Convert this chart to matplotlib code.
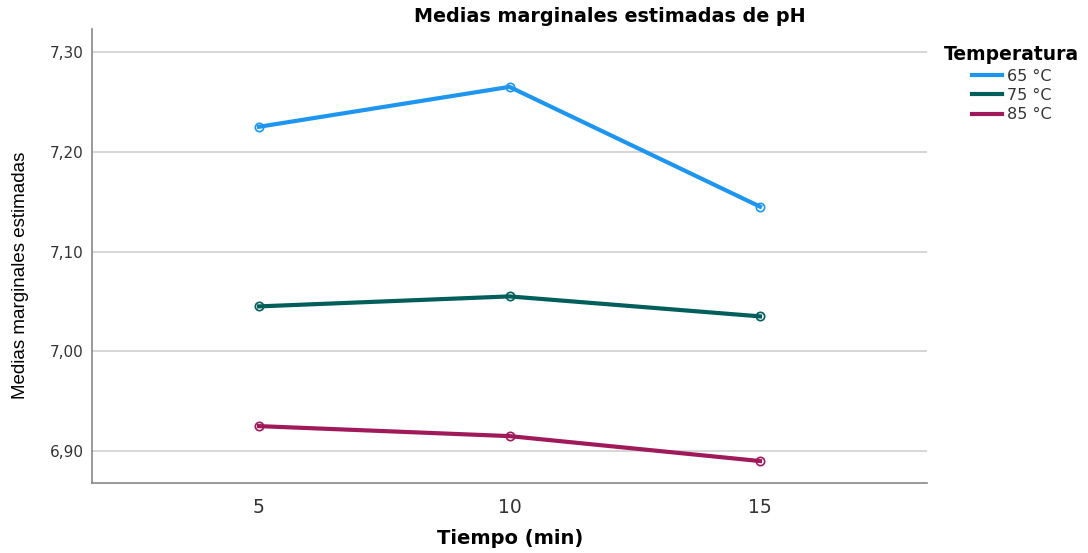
import matplotlib
matplotlib.use("Agg")
import matplotlib.pyplot as plt
from matplotlib.ticker import FuncFormatter

# tiempo (min) on x, one line per temperature
tiempo = [5, 10, 15]
temperaturas = ["65 °C", "75 °C", "85 °C"]
ph_65 = [7.225, 7.265, 7.145]
ph_75 = [7.045, 7.055, 7.035]
ph_85 = [6.925, 6.915, 6.890]
y_ticks = [6.90, 7.00, 7.10, 7.20, 7.30]

colores = ["#1e96f0", "#005f5a", "#a0195a"]

fig = plt.figure(figsize=(10.88, 5.53), dpi=100)
ax = fig.add_axes([92/1088, 1 - 483/553, (927 - 92)/1088, (483 - 29)/553])

for serie, color, nombre in zip([ph_65, ph_75, ph_85], colores, temperaturas):
    ax.plot(tiempo, serie, color=color, lw=3, label=nombre,
            marker="o", ms=6, mfc="none", mec=color, mew=1.2)

ax.set_xlim(1.667, 18.333)
ax.set_ylim(6.868, 7.323)
ax.set_xticks(tiempo)
ax.set_yticks(y_ticks)
ax.yaxis.set_major_formatter(FuncFormatter(lambda v, p: f"{v:.2f}".replace(".", ",")))
ax.grid(axis="y", color="#d0d0d0", lw=1.2)
ax.set_axisbelow(True)
ax.tick_params(length=0)
ax.tick_params(axis="x", labelsize=13.5, colors="#333333", pad=11)
ax.tick_params(axis="y", labelsize=11, colors="#333333", pad=6)
for s in ["top", "right"]:
    ax.spines[s].set_visible(False)
for s in ["left", "bottom"]:
    ax.spines[s].set_color("#888888")
    ax.spines[s].set_linewidth(1.2)

fig.text(610/1088, 1 - 16/553, "Medias marginales estimadas de pH",
         ha="center", va="center", fontsize=13.8, fontweight="bold")
fig.text(510/1088, 1 - 538/553, "Tiempo (min)",
         ha="center", va="center", fontsize=14, fontweight="bold")
fig.text(21/1088, 1 - 275/553, "Medias marginales estimadas",
         ha="center", va="center", rotation=90, fontsize=13.5,
         family=["Liberation Sans", "DejaVu Sans"])

leg = fig.legend(loc="upper left", bbox_to_anchor=(930/1088, 1 - 31/553),
                 title="Temperatura", frameon=False, fontsize=11.5,
                 handlelength=1.9, handletextpad=0.3, labelspacing=0.27,
                 labelcolor="#333333")
leg.get_title().set_fontweight("bold")
leg.get_title().set_fontsize(13.5)
for h in leg.legend_handles:
    h.set_marker("")

fig.savefig("out.png", dpi=100)
